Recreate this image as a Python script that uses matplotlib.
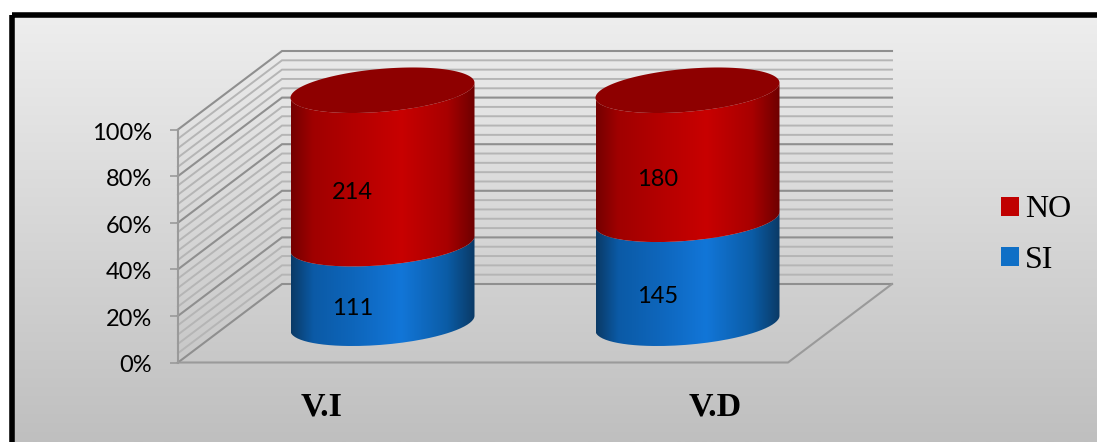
import numpy as np
import matplotlib
matplotlib.use('Agg')
import matplotlib.pyplot as plt
from matplotlib.colors import LinearSegmentedColormap
from matplotlib.patches import Patch, PathPatch, Rectangle
from matplotlib.path import Path
from matplotlib.transforms import ScaledTranslation

categories = ['V.I', 'V.D']
si_values = [111, 145]
no_values = [214, 180]
y_ticks = [0, 20, 40, 60, 80, 100]
y_labels = ['0%', '20%', '40%', '60%', '80%', '100%']
series_names = ['NO', 'SI']

W, H = 1097, 442
fig = plt.figure(figsize=(W / 100, H / 100), dpi=100, facecolor='white')

# panel background and black frame, in pixels
bg = fig.add_axes([0, 0, 1, 1], zorder=0)
bg.set_xlim(0, W)
bg.set_ylim(H, 0)
bg.axis('off')
grad = np.linspace(0, 1, 256).reshape(-1, 1)
bg_cmap = LinearSegmentedColormap.from_list('bg', ['#eeeeee', '#bfbfbf'])
bg.imshow(grad, cmap=bg_cmap, extent=[12, 1098, 442, 15], aspect='auto')
bg.set_xlim(0, W)
bg.set_ylim(H, 0)
bg.add_patch(Rectangle((12.4, 15.4), 1086, 440, fill=False, ec='black', lw=4, joinstyle='round'))

# main axes: the front plane of the 3d box
left, right, y_top, y_bot = 178, 788, 129.5, 362.5
ax = fig.add_axes([left / W, 1 - y_bot / H, (right - left) / W, (y_bot - y_top) / H], zorder=1)
ax.patch.set_alpha(0)
ax.set_xlim(0, 2)
ax.set_ylim(0, 100)
x_unit = (right - left) / 2
y_unit = (y_bot - y_top) / 100

# depth direction, in data units
dx = 104 / x_unit
dy = 78.5 / y_unit

grid_major = '#8f8f8f'
grid_minor = '#b5b5b5'
wall = '#9a9a9a'

for level in range(0, 101, 4):
    major = level % 20 == 0
    c = grid_major if major else grid_minor
    lw = 1.5 if major else 1.4
    ax.plot([0, dx, 2 + dx], [level, level + dy, level + dy], color=c, lw=lw,
            clip_on=False, zorder=2, solid_joinstyle='miter')

ax.plot([0, 0], [0, 100], color=wall, lw=1.5, clip_on=False, zorder=2)
ax.plot([0, 2, 2 + dx], [0, 0, dy], color=wall, lw=1.5, clip_on=False, zorder=2)

# cylinders
a = 92 / x_unit
b = 21.5 / y_unit
s = 7.5 / y_unit
depth = 0.5

red_cmap = LinearSegmentedColormap.from_list(
    'red', [(0, '#740000'), (0.12, '#a00000'), (0.35, '#b40000'), (0.6, '#c80000'),
            (0.85, '#a80000'), (1, '#6e0000')])
blue_cmap = LinearSegmentedColormap.from_list(
    'blue', [(0, '#0a3a66'), (0.12, '#0b5aa6'), (0.35, '#0e66bc'), (0.6, '#1276d8'),
             (0.85, '#0b5ca6'), (1, '#0a3a66')])
strip = np.linspace(0, 1, 256).reshape(1, -1)


def lower_arc(cx, cy):
    t = np.linspace(np.pi, 2 * np.pi, 80)
    return cx + a * np.cos(t), cy + b * np.sin(t) + s * np.cos(t)


def draw_side(cx, y0, y1, cmap, z):
    xb, yb = lower_arc(cx, y0)
    xt, yt = lower_arc(cx, y1)
    verts = np.vstack([np.column_stack([xb, yb]), np.column_stack([xt[::-1], yt[::-1]])])
    patch = PathPatch(Path(verts), fc='none', ec='none', transform=ax.transData, clip_on=False)
    ax.add_patch(patch)
    im = ax.imshow(strip, cmap=cmap, extent=[cx - a, cx + a, -40, 180], aspect='auto',
                   zorder=z, interpolation='bilinear')
    im.set_clip_box(fig.bbox)
    im.set_clip_path(patch)


for i, cat in enumerate(categories):
    total = si_values[i] + no_values[i]
    si_pct = si_values[i] / total * 100
    x_front = i + 0.5
    cx = x_front + depth * dx
    base = depth * dy
    draw_side(cx, base, base + si_pct, blue_cmap, 3)
    draw_side(cx, base + si_pct, base + 100, red_cmap, 4)

    t = np.linspace(0, 2 * np.pi, 160)
    ax.fill(cx + a * np.cos(t), base + 100 + b * np.sin(t) + s * np.cos(t),
            color='#8e0000', lw=0, zorder=5, clip_on=False)

    # data labels sit toward the front of the cylinder
    lx = x_front + 0.21 * dx
    ly = 0.18 * dy
    ax.text(lx, ly + si_pct / 2, str(si_values[i]), ha='center', va='center',
            family='Lato', fontsize=17, color='black', zorder=6)
    ax.text(lx, ly + si_pct + (100 - si_pct) / 2, str(no_values[i]), ha='center', va='center',
            family='Lato', fontsize=17, color='black', zorder=6)

ax.set_xlim(0, 2)
ax.set_ylim(0, 100)

for sp in ax.spines.values():
    sp.set_visible(False)
ax.set_xticks([])
ax.set_yticks(y_ticks)
ax.set_yticklabels(y_labels, family='Lato', fontsize=17, color='black')
ax.tick_params(axis='y', length=6, width=1.2, color=wall, pad=12.5)
nudge = ScaledTranslation(0, -1.5 / 100, fig.dpi_scale_trans)
for lbl in ax.get_yticklabels():
    lbl.set_transform(lbl.get_transform() + nudge)

# category labels are placed by hand in the original, off their slots
label_shift = [-9, 80]
for i, cat in enumerate(categories):
    ax.annotate(cat, xy=(i + 0.5, 0), xytext=(label_shift[i] * 0.72, -44 * 0.72),
                textcoords='offset points', ha='center', va='center',
                family='Liberation Serif', fontweight='bold', fontsize=24.5, color='black')

handles = [Patch(fc='#c00000', ec='none'), Patch(fc='#0f6fc6', ec='none')]
fig.legend(handles, series_names, loc='center left', bbox_to_anchor=(995 / W, 1 - 235 / H),
           frameon=False, prop={'family': 'Liberation Serif', 'size': 23},
           handlelength=0.54, handleheight=0.54, handletextpad=0.2, labelspacing=0.66,
           borderpad=0.2, borderaxespad=0)

fig.savefig('out.png', dpi=100)
